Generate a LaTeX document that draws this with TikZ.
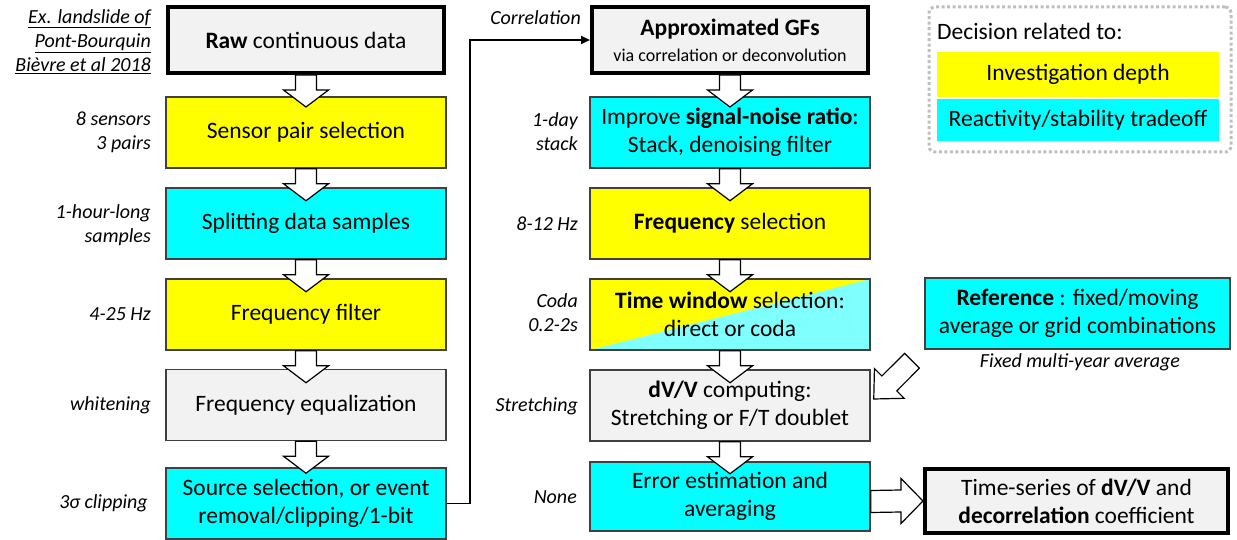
\documentclass[tikz,border=0pt]{standalone}
\usepackage{fontspec}
\setmainfont{Carlito}
\usetikzlibrary{calc,arrows.meta}
\definecolor{ybox}{RGB}{255,255,0}
\definecolor{cbox}{RGB}{0,255,255}
\definecolor{gbox}{RGB}{242,242,242}
\definecolor{lcyan}{RGB}{128,255,255}
\definecolor{bord}{RGB}{64,64,64}
\definecolor{dotc}{RGB}{191,191,191}
\newcommand\boxfont{\fontsize{23.5}{28}\selectfont}
\newcommand\labfont{\fontsize{20}{24}\selectfont\itshape}
\newcommand\subfont{\fontsize{18}{22}\selectfont}
\newcommand\flowdown[1]{\draw[blockarr] ($(#1.south)+(-10.5,0)$) -- ++(0,15) -- ++(-12,0) -- ($(#1.south)+(0,32)$) -- ++(22.5,-17) -- ++(-12,0) -- ($(#1.south)+(10.5,0)$) -- cycle;}
\begin{document}
\begin{tikzpicture}[x=1pt,y=-1pt,
  box/.style={draw=bord, line width=1.5pt, minimum width=280pt, minimum height=71pt, inner sep=0pt, align=center, font=\boxfont},
  thickbox/.style={draw=black, line width=4pt, minimum width=276pt, minimum height=66pt, inner sep=0pt, align=center, font=\boxfont, fill=gbox},
  lab/.style={anchor=east, align=right, font=\labfont, inner sep=0pt},
  blockarr/.style={draw=black, line width=1.2pt, fill=white, line join=miter},
  conn/.style={draw=black, line width=1.6pt, -{Triangle[length=9pt,width=8pt]}}
]
\useasboundingbox (0,0) rectangle (1237,540);

% left column
\node[thickbox] (raw) at (306,40) {\textbf{Raw} continuous data};
\node[box, fill=ybox] (sensor) at (306,132.5) {Sensor pair selection};
\node[box, fill=cbox] (split) at (306,223.5) {Splitting data samples};
\node[box, fill=ybox] (ffilter) at (306,314.5) {Frequency filter};
\node[box, fill=gbox] (feq) at (306,405) {Frequency equalization};
\node[box, fill=cbox] (source) at (306,503.5) {Source selection, or event\\removal/clipping/1-bit};

% middle column
\node[thickbox] (gfs) at (730,40) {\textbf{Approximated GFs}\\[-2pt]{\subfont via correlation or deconvolution}};
\node[box, fill=cbox] (snr) at (730,132.5) {Improve \textbf{signal-noise ratio}:\\Stack, denoising filter};
\node[box, fill=ybox] (fsel) at (730,223.5) {\textbf{Frequency} selection};
\node[box, fill=lcyan, path picture={\fill[ybox] (path picture bounding box.south west) -- (path picture bounding box.north west) -- (path picture bounding box.north east) -- cycle;}] (tw) at (730,314.5) {\textbf{Time window} selection:\\direct or coda};
\node[box, fill=gbox] (dvv) at (730,405.5) {\textbf{dV/V} computing:\\Stretching or F/T doublet};
\node[box, fill=cbox, minimum height=69pt] (err) at (730,496.5) {Error estimation and\\averaging};

% right column
\node[draw=dotc, line width=3pt, dash pattern=on 3pt off 2.5pt, rounded corners=6pt, minimum width=302pt, minimum height=145pt, inner sep=0pt] (legend) at (1080,79.5) {};
\node[anchor=west, font=\boxfont, inner sep=0pt] (dec) at (937,31) {Decision related to:};
\node[fill=ybox, minimum width=282pt, minimum height=45pt, inner sep=0pt, font=\boxfont] (ldepth) at (1078,74.5) {Investigation depth};
\node[fill=cbox, minimum width=282pt, minimum height=42pt, inner sep=0pt, font=\boxfont] (lreact) at (1078,120) {Reactivity/stability tradeoff};

\node[box, fill=cbox, minimum width=305pt] (ref) at (1077.5,313.5) {\textbf{Reference} : fixed/moving\\average or grid combinations};
\node[font=\labfont, inner sep=0pt] (refl) at (1080,362) {Fixed multi-year average};
\node[thickbox, minimum width=303pt, minimum height=64pt] (ts) at (1076.5,501) {Time-series of \textbf{dV/V} and\\\textbf{decorrelation} coefficient};

% left labels
\node[lab] (l0) at (151,42) {\underline{Ex. landslide of}\\\underline{Pont-Bourquin}\\\underline{Bièvre et al 2018}};
\node[lab] (l1) at (151,132) {8 sensors\\3 pairs};
\node[lab] (l2) at (151,225) {1-hour-long\\samples};
\node[lab] (l3) at (151,314) {4-25 Hz};
\node[lab] (l4) at (151,405) {whitening};
\node[lab] (l5) at (148,503) {3σ clipping};

% middle labels
\node[lab] (m0) at (581,18) {Correlation};
\node[lab] (m1) at (578,132) {1-day\\stack};
\node[lab] (m2) at (578,224) {8-12 Hz};
\node[lab] (m3) at (578,313) {Coda\\0.2-2s};
\node[lab] (m4) at (578,406) {Stretching};
\node[lab] (m5) at (577,497) {None};

% block arrows
\flowdown{raw}
\flowdown{sensor}
\flowdown{split}
\flowdown{ffilter}
\flowdown{feq}
\flowdown{gfs}
\flowdown{snr}
\flowdown{fsel}
\flowdown{tw}
\flowdown{dvv}

\draw[blockarr] (ts.west) -- ++(-22,-22.5) -- ++(0,11.5) -- ($(err.east)+(0,-6)$) -- ++(0,22) -- ($(ts.west)+(-22,11)$) -- ++(0,11.5) -- cycle;

\begin{scope}[shift={($(dvv.east)+(3,-6.5)$)}]
\draw[blockarr] (0,0) -- (30.4,-0.7) -- (23,-8.1) -- (45.6,-30.8) -- (30.8,-45.6) -- (8.1,-23) -- (0.7,-30.4) -- cycle;
\end{scope}

% connector
\draw[conn] (source.east) -- ++(23,0) |- (gfs.west);
\end{tikzpicture}
\end{document}
